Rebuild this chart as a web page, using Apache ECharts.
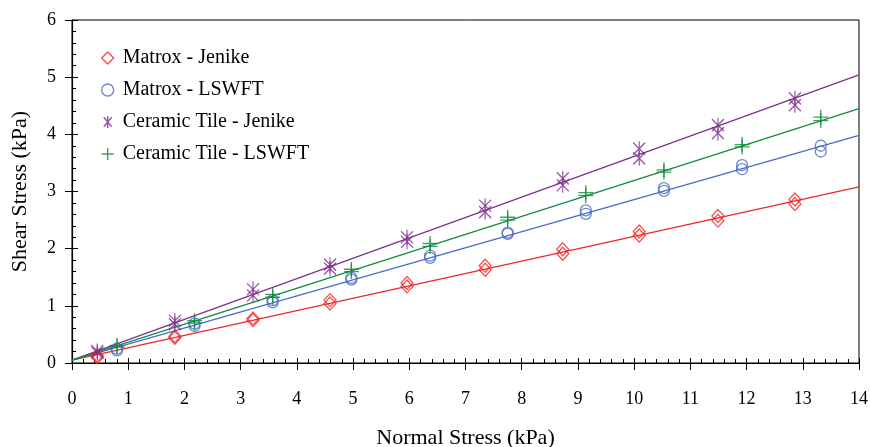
<!DOCTYPE html>
<html><head><meta charset="utf-8">
<script src="https://cdn.jsdelivr.net/npm/echarts@6/dist/echarts.min.js"></script>
<style>html,body{margin:0;padding:0;background:#fff}#c{width:870px;height:447px}</style>
</head><body><div id="c"></div>
<script>
// Normal stress positions (kPa)
const jenikeX = [0.45, 1.83, 3.22, 4.59, 5.96, 7.35, 8.73, 10.09, 11.49, 12.86];
const lswftX  = [0.80, 2.18, 3.57, 4.97, 6.37, 7.75, 9.14, 10.53, 11.92, 13.32];
// Shear stress (kPa), two replicate measurements per normal stress
const matroxJenikeA = [0.10, 0.44, 0.75, 1.04, 1.34, 1.63, 1.91, 2.23, 2.49, 2.78];
const matroxJenikeB = [0.13, 0.47, 0.78, 1.10, 1.40, 1.70, 1.99, 2.30, 2.57, 2.86];
const matroxLswftA  = [0.22, 0.65, 1.06, 1.46, 1.84, 2.26, 2.61, 3.01, 3.39, 3.70];
const matroxLswftB  = [0.25, 0.69, 1.10, 1.49, 1.88, 2.28, 2.67, 3.06, 3.46, 3.80];
const ceramicJenikeA = [0.18, 0.68, 1.18, 1.65, 2.12, 2.64, 3.11, 3.58, 4.02, 4.51];
const ceramicJenikeB = [0.21, 0.74, 1.29, 1.72, 2.20, 2.75, 3.23, 3.75, 4.16, 4.63];
const ceramicLswftA  = [0.28, 0.70, 1.15, 1.60, 2.04, 2.50, 2.93, 3.34, 3.78, 4.24];
const ceramicLswftB  = [0.31, 0.74, 1.20, 1.64, 2.09, 2.55, 2.98, 3.38, 3.82, 4.30];
// Fitted lines: endpoint values at x = 0 and x = 14
const fitX = [0, 14];
const fitMatroxJenike  = [0.05, 3.08];
const fitMatroxLswft   = [0.05, 3.98];
const fitCeramicJenike = [0.05, 5.04];
const fitCeramicLswft  = [0.05, 4.45];

const names = ['Matrox - Jenike', 'Matrox - LSWFT', 'Ceramic Tile - Jenike', 'Ceramic Tile - LSWFT'];
const colors = ['#f02626', '#4a6cc6', '#7e2f8e', '#118a3c'];

function pairs(xs, a, b) {
  const out = [];
  xs.forEach((x, i) => { out.push([x, a[i]]); out.push([x, b[i]]); });
  return out;
}
function line(ys) { return fitX.map((x, i) => [x, ys[i]]); }

const asterisk = 'path://M0,-10L0,10M-6.5,-8L6.5,8M-6.5,8L6.5,-8';
const plus = 'path://M0,-10L0,10M-10,0L10,0';

const font = 'Liberation Serif';
const scatterData = [
  pairs(jenikeX, matroxJenikeA, matroxJenikeB),
  pairs(lswftX, matroxLswftA, matroxLswftB),
  pairs(jenikeX, ceramicJenikeA, ceramicJenikeB),
  pairs(lswftX, ceramicLswftA, ceramicLswftB)
];
const symbols = ['diamond', 'circle', asterisk, plus];
const sizes = [[12, 13], 11, [12, 15], 15];
const fits = [fitMatroxJenike, fitMatroxLswft, fitCeramicJenike, fitCeramicLswft];

const series = [];
fits.forEach((f, i) => {
  series.push({
    type: 'line', data: line(f), symbol: 'none', silent: true,
    lineStyle: { color: colors[i], width: 1.3 }, z: 2
  });
});
scatterData.forEach((d, i) => {
  series.push({
    name: names[i], type: 'scatter', data: d, symbol: symbols[i], symbolSize: sizes[i],
    itemStyle: { color: 'rgba(0,0,0,0)', borderColor: colors[i], borderWidth: 1.3 }, z: 3
  });
});

const chart = echarts.init(document.getElementById('c'), null, { renderer: 'canvas' });
chart.setOption({
  animation: false,
  backgroundColor: '#fff',
  textStyle: { fontFamily: font, color: '#000' },
  grid: { left: 72, right: 11, top: 20, bottom: 84, show: true, borderColor: '#000', borderWidth: 1,
          containLabel: false, outerBoundsMode: 'none' },
  legend: {
    orient: 'vertical', left: 96, top: 43, itemGap: 12,
    itemWidth: 12, itemHeight: 12,
    textStyle: { fontFamily: font, fontSize: 20, lineHeight: 20, color: '#000', padding: [0, 0, 0, 4] },
    data: names.map((n, i) => ({ name: n, itemStyle: { color: 'rgba(0,0,0,0)', borderColor: colors[i], borderWidth: 1.4 } }))
  },
  xAxis: [{
    type: 'value', min: 0, max: 14, interval: 1,
    name: 'Normal Stress (kPa)', nameLocation: 'middle', nameGap: 64,
    nameTextStyle: { fontFamily: font, fontSize: 22, color: '#000' },
    axisLine: { lineStyle: { color: '#000', width: 1.2 } },
    axisTick: { show: true, inside: false, length: 7, lineStyle: { color: '#000' } },
    axisLabel: { fontFamily: font, fontSize: 18, color: '#000', margin: 27 },
    splitLine: { show: false }
  }, {
    type: 'value', min: 0, max: 14, interval: 1, position: 'bottom',
    axisLine: { show: false },
    axisTick: { show: true, inside: true, length: 5, lineStyle: { color: '#000' } },
    minorTick: { show: true, splitNumber: 5, length: 4, lineStyle: { color: '#000' } },
    axisLabel: { show: false }, splitLine: { show: false }
  }],
  yAxis: [{
    type: 'value', min: 0, max: 6, interval: 1,
    name: 'Shear Stress (kPa)', nameLocation: 'middle', nameGap: 41,
    nameTextStyle: { fontFamily: font, fontSize: 22, color: '#000' },
    axisLine: { show: true, lineStyle: { color: '#000', width: 1.2 } },
    axisTick: { show: true, inside: false, length: 7, lineStyle: { color: '#000' } },
    axisLabel: { fontFamily: font, fontSize: 18, color: '#000', margin: 16 },
    splitLine: { show: false }
  }, {
    type: 'value', min: 0, max: 6, interval: 1, position: 'left',
    axisLine: { show: false },
    axisTick: { show: true, inside: true, length: 6, lineStyle: { color: '#000' } },
    minorTick: { show: true, splitNumber: 5, length: 4, lineStyle: { color: '#000' } },
    axisLabel: { show: false }, splitLine: { show: false }
  }],
  series: series
});
</script></body></html>
